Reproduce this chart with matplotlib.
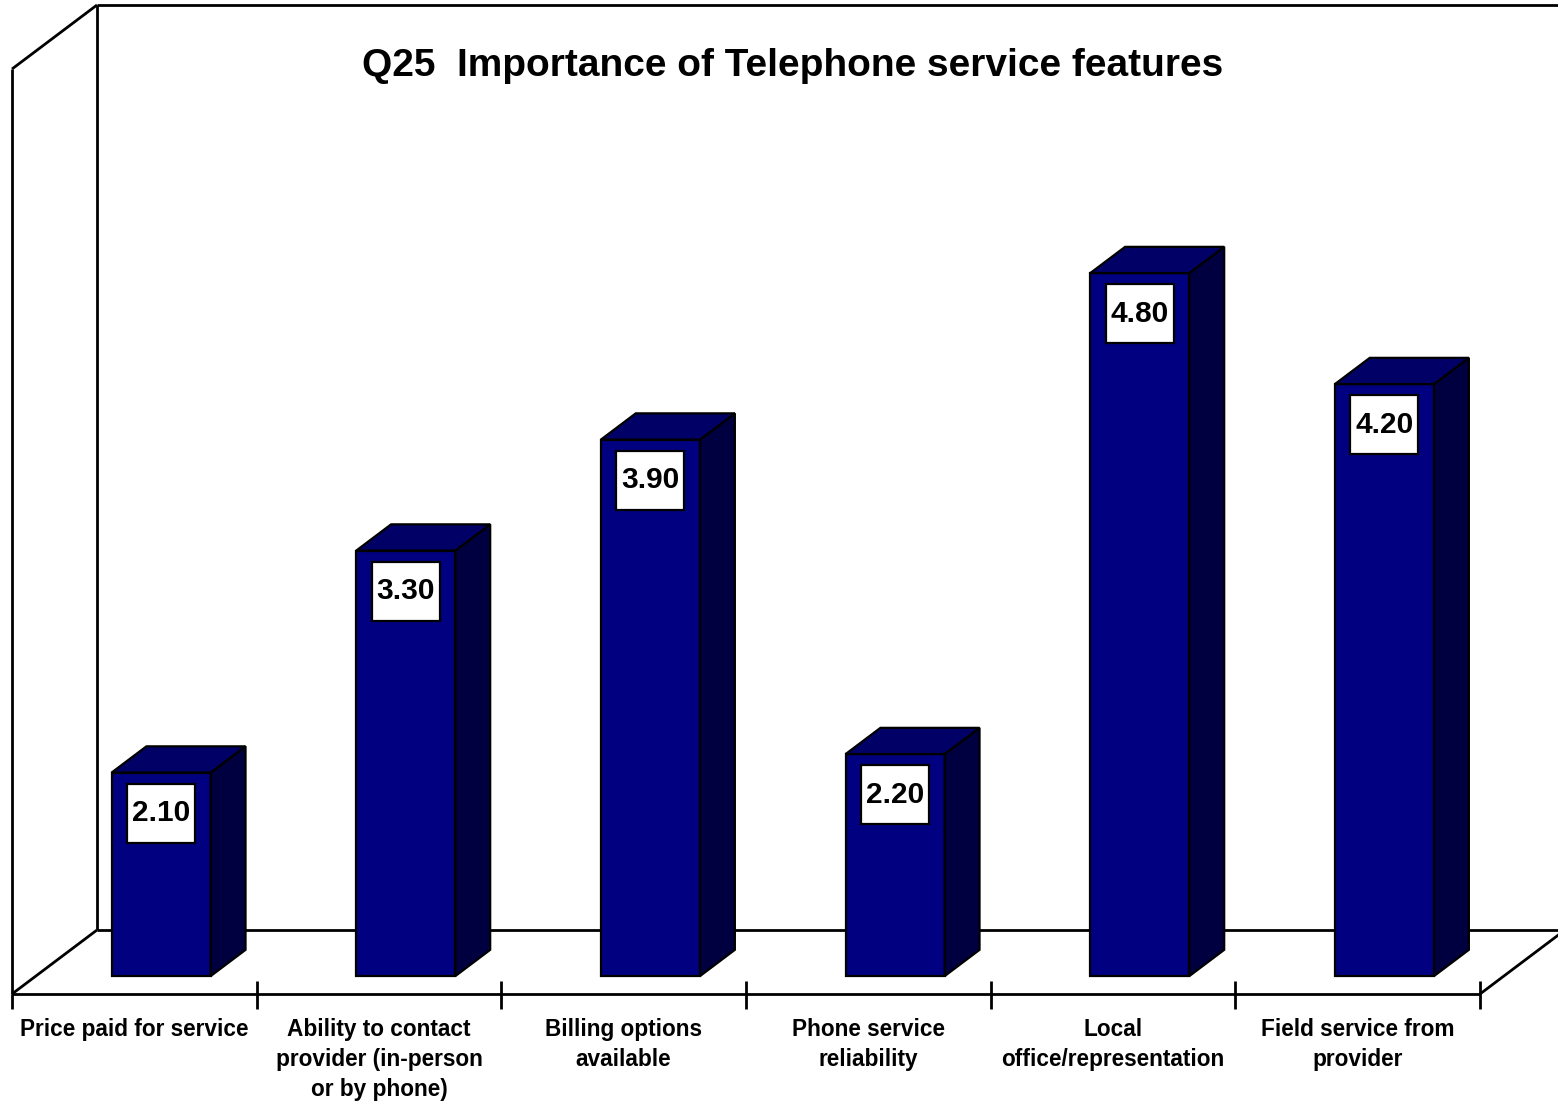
import matplotlib
matplotlib.use("Agg")
import matplotlib.pyplot as plt
from matplotlib.patches import Polygon, Rectangle

plt.rcParams['font.family'] = ['Liberation Sans', 'DejaVu Sans']

# Survey data
categories = [
    "Price paid for service",
    "Ability to contact\nprovider (in-person\nor by phone)",
    "Billing options\navailable",
    "Phone service\nreliability",
    "Local\noffice/representation",
    "Field service from\nprovider",
]
values = [2.10, 3.30, 3.90, 2.20, 4.80, 4.20]
value_labels = ["2.10", "3.30", "3.90", "2.20", "4.80", "4.20"]
title = "Q25  Importance of Telephone service features"

# Value axis range (floor sits at 1)
y_min, y_max = 1.0, 6.0

W, H = 1558, 1102
fig = plt.figure(figsize=(W / 100, H / 100), dpi=100)
fig.patch.set_facecolor("white")

# Front plane of the plot area in pixels
left_px, right_px = 12, 1480
floor_px, top_px = 994, 69
ax = fig.add_axes([left_px / W, (H - floor_px) / H,
                   (right_px - left_px) / W, (floor_px - top_px) / H])
n = len(categories)
ax.set_xlim(0, n)
ax.set_ylim(y_min, y_max)
ax.axis("off")

px_x = (right_px - left_px) / n          # pixels per category slot
px_y = (floor_px - top_px) / (y_max - y_min)  # pixels per value unit
DX = 85 / px_x   # oblique depth offset (x, data units)
DY = 64 / px_y   # oblique depth offset (y, data units)


def proj(x, d, v):
    """Oblique projection: category x, depth d in [0,1], value v."""
    return (x + d * DX, v + d * DY)


line_kw = dict(color="black", lw=2.0, clip_on=False, solid_capstyle="butt")


def seg(p, q, **kw):
    k = dict(line_kw)
    k.update(kw)
    ax.plot([p[0], q[0]], [p[1], q[1]], **k)


# Walls and floor outline
seg(proj(0, 0, y_min), proj(0, 0, y_max))
seg(proj(0, 0, y_max), proj(0, 1, y_max))
seg(proj(0, 1, y_min), proj(0, 1, y_max))
seg(proj(0, 1, y_max), proj(n + 0.3, 1, y_max))
seg(proj(0, 1, y_min), proj(n + 0.3, 1, y_min), zorder=1)
seg(proj(0, 0, y_min), proj(0, 1, y_min))
seg(proj(0, 0, y_min), proj(n, 0, y_min))
seg(proj(n, 0, y_min), proj(n, 1, y_min))

# Category tick marks
t_up, t_dn = 13 / px_y, 15 / px_y
seg((0, y_min), (0, y_min - t_dn))
for i in range(1, n + 1):
    seg((i, y_min + t_up), (i, y_min - t_dn), zorder=5)

# Bars
d0, d1 = 0.28, 0.69
bw = 0.405
bar_shift = 3 / px_x
front_c = "#000080"
top_c = "#000066"
side_c = "#000040"
for i, v in enumerate(values):
    xc = i + 0.5 + bar_shift
    x0, x1 = xc - bw / 2, xc + bw / 2
    fb0 = proj(x0, d0, y_min)
    fb1 = proj(x1, d0, y_min)
    ft0 = proj(x0, d0, v)
    ft1 = proj(x1, d0, v)
    bb1 = proj(x1, d1, y_min)
    bt0 = proj(x0, d1, v)
    bt1 = proj(x1, d1, v)
    ax.add_patch(Polygon([fb0, fb1, ft1, ft0], closed=True, facecolor=front_c,
                         edgecolor="black", lw=1.6, zorder=3, clip_on=False))
    ax.add_patch(Polygon([fb1, bb1, bt1, ft1], closed=True, facecolor=side_c,
                         edgecolor="black", lw=1.6, zorder=3, clip_on=False))
    ax.add_patch(Polygon([ft0, ft1, bt1, bt0], closed=True, facecolor=top_c,
                         edgecolor="black", lw=1.6, zorder=3, clip_on=False))

    # Value label box on the front face
    cx = (ft0[0] + ft1[0]) / 2
    bx_w, bx_h = 68 / px_x, 59 / px_y
    bx_top = ft0[1] - 11 / px_y
    ax.add_patch(Rectangle((cx - bx_w / 2, bx_top - bx_h), bx_w, bx_h,
                           facecolor="white", edgecolor="black", lw=1.6,
                           zorder=4, clip_on=False))
    ax.text(cx, bx_top - bx_h / 2, value_labels[i], ha="center", va="center",
            fontsize=21.5, fontweight="bold", color="black", zorder=5)

# Category labels
for i, lab in enumerate(categories):
    ax.text(i + 0.5, y_min - 24 / px_y, lab, ha="center", va="top",
            fontsize=16.3, fontweight="bold", linespacing=1.38, color="black")

fig.text(793 / W, 1 - 66 / H, title, ha="center", va="center",
         fontsize=28, fontweight="bold", color="black")

fig.savefig("out.png", dpi=100, facecolor="white")
